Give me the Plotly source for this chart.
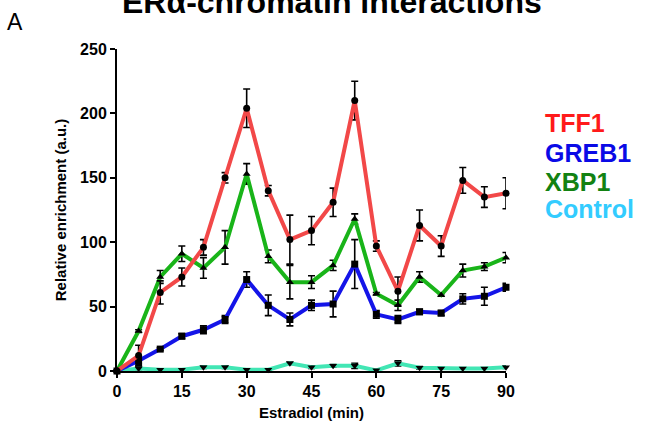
import plotly.graph_objects as go

time_min = [0, 5, 10, 15, 20, 25, 30, 35, 40, 45, 50, 55, 60, 65, 70, 75, 80, 85, 90]

tff1 = [0, 12, 61, 73, 96, 150, 204, 140, 102, 109, 131, 210, 97, 62, 113, 97, 148, 135, 138]
tff1_err = [0, 8, 9, 7, 6, 4, 15, 4, 19, 11, 11, 15, 4, 11, 12, 8, 10, 8, 12]

greb1 = [0, 8, 17, 27, 32, 40, 71, 51, 40, 51, 52, 83, 44, 40, 46, 45, 56, 58, 65]
greb1_err = [0, 3, 1, 2, 3, 3, 6, 8, 5, 4, 10, 19, 3, 3, 2, 2, 4, 7, 3]

xbp1 = [0, 31, 73, 91, 80, 96, 153, 89, 69, 69, 82, 118, 60, 51, 73, 59, 78, 81, 88]
xbp1_err = [0, 1, 5, 6, 8, 13, 8, 5, 13, 5, 4, 4, 1, 4, 4, 1, 5, 3, 4]

control = [0, 2, 1, 1, 3, 3, 1, 1, 6, 3, 4, 4, 0.5, 6, 2.5, 2, 2, 2, 3]
control_err = [0, 1, 0.5, 0.5, 1, 1, 0.5, 0.5, 1, 1, 1, 2, 0.5, 2, 1, 0.5, 0.5, 0.5, 1]

series_names = ["TFF1", "GREB1", "XBP1", "Control"]
line_colors = {"TFF1": "#F24848", "GREB1": "#1414E8", "XBP1": "#19B419", "Control": "#42E6B4"}
label_colors = {"TFF1": "#FF1A1A", "GREB1": "#0A0AE6", "XBP1": "#128212", "Control": "#33CCFF"}
symbols = {"TFF1": "circle", "GREB1": "square", "XBP1": "triangle-up", "Control": "triangle-down"}
values = {"TFF1": (tff1, tff1_err), "GREB1": (greb1, greb1_err), "XBP1": (xbp1, xbp1_err),
          "Control": (control, control_err)}

x_ticks = [0, 15, 30, 45, 60, 75, 90]
y_ticks = [0, 50, 100, 150, 200, 250]

FONT = "Arial, Liberation Sans, sans-serif"

fig = go.Figure()
for name in ["Control", "XBP1", "GREB1", "TFF1"]:
    y, e = values[name]
    fig.add_trace(go.Scatter(
        x=time_min, y=y, name=name, mode="lines+markers",
        line=dict(color=line_colors[name], width=4),
        marker=dict(symbol=symbols[name], color="black", size=7),
        error_y=dict(type="data", array=e, visible=True, color="black", thickness=1.6, width=3.5),
        cliponaxis=False, showlegend=False,
    ))

legend_y_px = [124, 155, 184, 212]
for name, ypx in zip(series_names, legend_y_px):
    fig.add_annotation(
        xref="paper", yref="paper", x=(543 - 117) / 389, y=(377 - ypx) / 328,
        xanchor="left", yanchor="middle", showarrow=False,
        text=f"<b>{name}</b>", font=dict(family=FONT, size=25, color=label_colors[name]),
    )

fig.add_annotation(
    xref="paper", yref="paper", x=(332 - 117) / 389, y=(377 - 22) / 328,
    xanchor="center", yanchor="bottom", showarrow=False,
    text="<b>ERα-chromatin interactions</b>", font=dict(family=FONT, size=32, color="black"),
)
fig.add_annotation(
    xref="paper", yref="paper", x=(5 - 117) / 389, y=(377 - 21) / 328,
    xanchor="left", yanchor="middle", showarrow=False,
    text="A", font=dict(family=FONT, size=23, color="black"),
)

fig.update_layout(
    width=656, height=431,
    margin=dict(l=117, r=150, t=49, b=54),
    plot_bgcolor="white", paper_bgcolor="white",
    font=dict(family=FONT, color="black"),
)
fig.update_xaxes(
    range=[0, 90], tickvals=x_ticks, ticktext=[f"<b>{v}</b>" for v in x_ticks],
    showline=True, linecolor="black", linewidth=2, ticks="outside", ticklen=5,
    tickwidth=2, tickcolor="black", showgrid=False, zeroline=False,
    tickfont=dict(size=16, family=FONT),
    title=dict(text="<b>Estradiol (min)</b>", font=dict(size=15, family=FONT), standoff=8),
)
fig.update_yaxes(
    range=[0, 250], tickvals=y_ticks, ticktext=[f"<b>{v}</b>" for v in y_ticks],
    showline=True, linecolor="black", linewidth=2, ticks="outside", ticklen=5,
    tickwidth=2, tickcolor="black", showgrid=False, zeroline=False,
    tickfont=dict(size=16, family=FONT),
    title=dict(text="<b>Relative enrichment (a.u.)</b>", font=dict(size=15, family=FONT), standoff=10),
)

fig.write_html("out.html")
